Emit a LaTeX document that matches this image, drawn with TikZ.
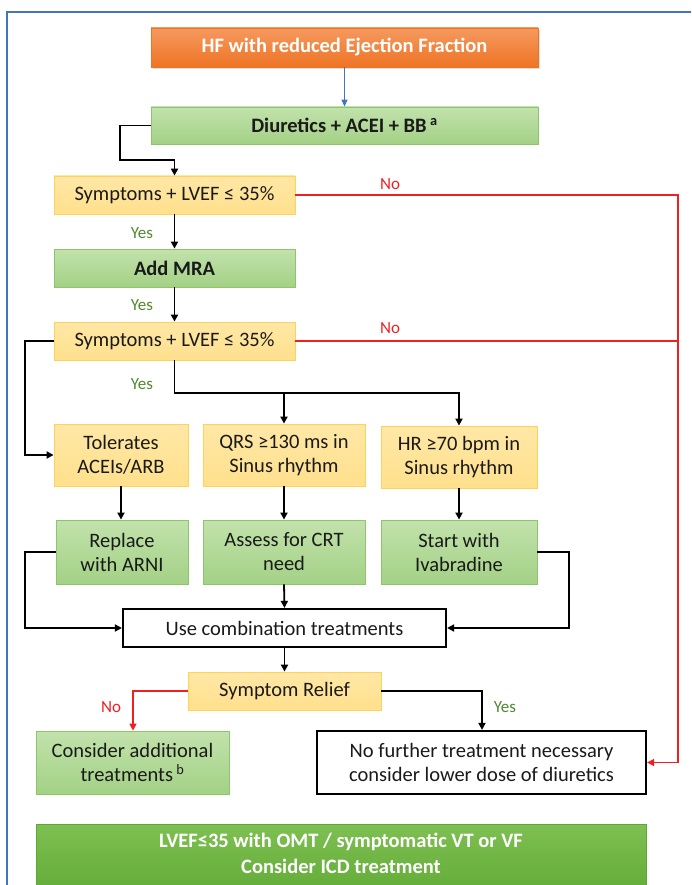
\documentclass[tikz,border=0pt]{standalone}
\usepackage{fontspec}
\setmainfont{Carlito}
\usetikzlibrary{arrows.meta,shadows}
\definecolor{frameblue}{HTML}{4472C4}
\definecolor{orgtop}{HTML}{F5995F}
\definecolor{orgbot}{HTML}{EE7424}
\definecolor{ylwfill}{HTML}{FFE08C}
\definecolor{ylwtop}{HTML}{FFE7A6}
\definecolor{ylwline}{HTML}{FFD25A}
\definecolor{grntop}{HTML}{C2E2AC}
\definecolor{grnbot}{HTML}{A3D185}
\definecolor{grnline}{HTML}{8DC46C}
\definecolor{bigtop}{HTML}{7EC052}
\definecolor{bigbot}{HTML}{5EA833}
\definecolor{yesgreen}{HTML}{4F8A2E}
\definecolor{noRed}{HTML}{F02020}
\definecolor{txt}{HTML}{1A1A1A}
\tikzset{
  base/.style={rectangle, align=center, text=txt, inner sep=0pt,
    font=\fontsize{20.5}{24}\selectfont},
  orgbox/.style={base, draw=orgbot, line width=0.6pt, top color=orgtop, bottom color=orgbot,
    text=white, font=\fontsize{20.5}{24}\selectfont\bfseries,
    drop shadow={shadow xshift=1.5pt, shadow yshift=-2pt, opacity=0.25}},
  ylwbox/.style={base, draw=ylwline, line width=0.8pt, top color=ylwtop, bottom color=ylwfill},
  grnbox/.style={base, draw=grnline, line width=0.8pt, top color=grntop, bottom color=grnbot},
  blkbox/.style={base, draw=black, line width=2.2pt, fill=white},
  arr/.style={line width=1.8pt, draw=black, -{Triangle[length=7pt,width=7pt]}},
  ln/.style={line width=1.8pt, draw=black},
  redarr/.style={line width=1.4pt, draw=noRed, -{Triangle[length=7pt,width=7pt]}},
  redln/.style={line width=1.4pt, draw=noRed},
  bluearr/.style={line width=1.2pt, draw=frameblue, -{Triangle[length=7pt,width=6pt]}},
  yeslbl/.style={text=yesgreen, font=\fontsize{17}{20}\selectfont},
  nolbl/.style={text=noRed, font=\fontsize{17}{20}\selectfont},
}
\begin{document}
\begin{tikzpicture}[x=1pt,y=-1pt]
\useasboundingbox (0,0) rectangle (691,885);
\begin{scope}
\clip (0,0) rectangle (691,885);
\fill[white] (0,0) rectangle (691,885);
\draw[frameblue, line width=1.2pt] (7,12) rectangle (720,920);

% nodes
\node[orgbox, minimum width=387pt, minimum height=39pt] (hf) at (344.5,47.5) {HF with reduced Ejection Fraction};
\node[grnbox, minimum width=387pt, minimum height=37pt, font=\fontsize{20.5}{24}\selectfont\bfseries] (diu) at (344.5,125.5) {Diuretics + ACEI + BB\,\textsuperscript{a}};
\node[ylwbox, minimum width=241pt, minimum height=38pt] (s1) at (174.5,195) {Symptoms + LVEF ≤ 35\%};
\node[grnbox, minimum width=241pt, minimum height=38pt, font=\fontsize{20.5}{24}\selectfont\bfseries] (mra) at (174.5,268) {Add MRA};
\node[ylwbox, minimum width=241pt, minimum height=38pt] (s2) at (174.5,341) {Symptoms + LVEF ≤ 35\%};

\node[ylwbox, minimum width=134pt, minimum height=62pt] (tol) at (121,455) {Tolerates\\ACEIs/ARB};
\node[ylwbox, minimum width=162pt, minimum height=62pt] (qrs) at (284,455) {QRS ≥130 ms in\\Sinus rhythm};
\node[ylwbox, minimum width=156pt, minimum height=62pt] (hr) at (459,457) {HR ≥70 bpm in\\Sinus rhythm};

\node[grnbox, minimum width=132pt, minimum height=64pt] (rep) at (122,552) {Replace\\with ARNI};
\node[grnbox, minimum width=162pt, minimum height=64pt] (crt) at (284,552) {Assess for CRT\\need};
\node[grnbox, minimum width=156pt, minimum height=64pt] (iva) at (459,552) {Start with\\Ivabradine};

\node[blkbox, minimum width=323pt, minimum height=38pt] (use) at (284.5,628) {Use combination treatments};
\node[ylwbox, minimum width=193pt, minimum height=38pt] (sr) at (284.5,691) {Symptom Relief};

\node[grnbox, minimum width=193pt, minimum height=63pt] (cons) at (132.5,762.5) {Consider additional\\treatments\,\textsuperscript{b}};
\node[blkbox, minimum width=329pt, minimum height=63pt] (nof) at (481.5,762.5) {No further treatment necessary\\consider lower dose of diuretics};

\node[rectangle, draw=bigbot, line width=0.6pt, top color=bigtop, bottom color=bigbot,
  minimum width=610pt, minimum height=80pt, anchor=north] (icd) at (341,824) {};
\node[base, text=white, font=\fontsize{20.5}{26}\selectfont\bfseries] (icdt) at (341,853)
  {LVEF≤35 with OMT / symptomatic VT or VF\\Consider ICD treatment};

% coordinates
\coordinate (c1) at (120,160);
\coordinate (rx) at (678,500);
\coordinate (lx) at (25,500);
\coordinate (j) at (174.5,393);
\coordinate (rx2) at (569,600);
\coordinate (sl) at (133,700);
\coordinate (srr) at (482,700);

% connectors
\draw[bluearr] (hf.south) -- (diu.north);
\draw[arr] (diu.west) -| (c1) -| (s1.north);
\draw[arr] (s1.south) -- (mra.north);
\draw[arr] (mra.south) -- (s2.north);
\draw[redarr] (s1.east) -- (s1.east -| rx) -- (nof.east -| rx) -- (nof.east);
\draw[redln] (s2.east) -- (s2.east -| rx);
\draw[arr] (s2.west) -- (s2.west -| lx) -- (tol.west -| lx) -- (tol.west);
\draw[arr] (s2.south) -- (j) -| (hr.north);
\draw[arr] (qrs.north |- j) -- (qrs.north);
\draw[arr] (tol.south) -- (tol.south |- rep.north);
\draw[arr] (qrs.south) -- (crt.north);
\draw[arr] (hr.south) -- (iva.north);
\draw[arr] (rep.west) -- (rep.west -| lx) -- (use.west -| lx) -- (use.west);
\draw[arr] (iva.east) -- (iva.east -| rx2) -- (use.east -| rx2) -- (use.east);
\draw[arr] (crt.south) -- (use.north);
\draw[arr] (use.south) -- (sr.north);
\draw[redarr] (sr.west) -| (sl |- cons.north);
\draw[arr] (sr.east) -| (srr |- nof.north);

% labels
\node[nolbl] (no1) at (390,184) {No};
\node[nolbl] (no2) at (390,328) {No};
\node[yeslbl] (y1) at (142,233) {Yes};
\node[yeslbl] (y2) at (142,305) {Yes};
\node[yeslbl] (y3) at (142,384) {Yes};
\node[nolbl] (no3) at (111,707) {No};
\node[yeslbl] (y4) at (505,707) {Yes};
\end{scope}
\end{tikzpicture}
\end{document}
